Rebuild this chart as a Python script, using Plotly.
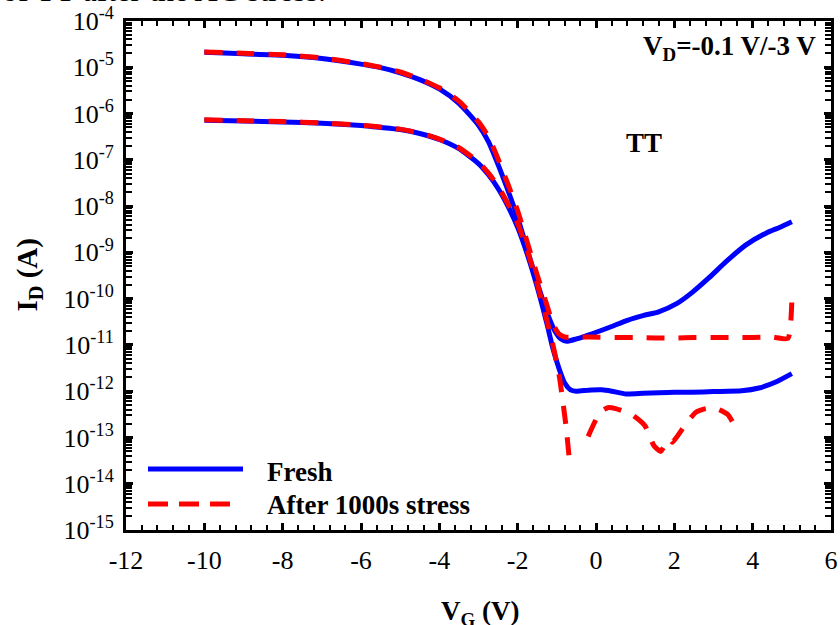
import numpy as np
import plotly.graph_objects as go

# ---- data (gate voltage in V, drain current in A) ----
vg_fresh_hi = [-10, -9, -8, -7, -6, -5.5, -5, -4.5, -4, -3.5, -3.0, -2.75, -2.5, -2.25, -2.0,
               -1.75, -1.5, -1.25, -1.05, -0.9, -0.75, -0.5, -0.1, 0.4, 0.8, 1.2, 1.6, 2.07,
               2.45, 2.88, 3.32, 3.83, 4.34, 4.7, 5.0]
id_fresh_hi = [2.1e-5, 1.95e-5, 1.82e-5, 1.55e-5, 1.17e-5, 9.8e-6, 7.6e-6, 5.4e-6, 3.4e-6,
               1.66e-6, 5.6e-7, 2.5e-7, 7.9e-8, 2.2e-8, 5.6e-9, 1.12e-9, 2.2e-10, 5.0e-11,
               2.0e-11, 1.35e-11, 1.2e-11, 1.35e-11, 1.74e-11, 2.5e-11, 3.4e-11, 4.3e-11,
               5.2e-11, 7.9e-11, 1.35e-10, 2.8e-10, 6.3e-10, 1.45e-9, 2.6e-9, 3.5e-9, 4.6e-9]

vg_fresh_lo = [-10, -9, -8, -7, -6, -5.5, -5, -4.5, -4, -3.5, -3.0, -2.75, -2.5, -2.25, -2.0,
               -1.75, -1.5, -1.25, -1.1, -0.95, -0.8, -0.65, -0.5, -0.2, 0.15, 0.4, 0.77, 1.2,
               1.61, 2.0, 2.45, 3.0, 3.72, 4.16, 4.59, 5.0]
id_fresh_lo = [7.2e-7, 6.9e-7, 6.6e-7, 6.2e-7, 5.5e-7, 5.0e-7, 4.5e-7, 3.7e-7, 2.75e-7, 1.74e-7,
               8.3e-8, 4.8e-8, 2.4e-8, 1.0e-8, 3.5e-9, 8.9e-10, 1.78e-10, 2.8e-11, 8.3e-12,
               3.2e-12, 1.5e-12, 1.07e-12, 1.0e-12, 1.05e-12, 1.07e-12, 1.0e-12, 8.7e-13,
               9.0e-13, 9.3e-13, 9.5e-13, 9.5e-13, 9.8e-13, 1.02e-12, 1.17e-12, 1.58e-12, 2.4e-12]

vg_stress_hi = [-10, -9, -8, -7, -6, -5.5, -5, -4.5, -4, -3.5, -3.0, -2.75, -2.5, -2.25, -2.0,
                -1.75, -1.5, -1.25, -1.1, -0.95, -0.8, -0.6, -0.2, 0.5, 1.0, 1.5, 2.0, 2.5,
                3.0, 3.5, 4.0, 4.5, 4.9, 5.0]
id_stress_hi = [2.15e-5, 2.0e-5, 1.86e-5, 1.6e-5, 1.2e-5, 1.0e-5, 7.9e-6, 5.6e-6, 3.6e-6,
                1.86e-6, 6.6e-7, 3.2e-7, 1.05e-7, 3.0e-8, 7.9e-9, 1.6e-9, 3.2e-10, 7.1e-11,
                2.8e-11, 1.74e-11, 1.48e-11, 1.48e-11, 1.48e-11, 1.45e-11, 1.45e-11, 1.41e-11,
                1.41e-11, 1.45e-11, 1.45e-11, 1.45e-11, 1.45e-11, 1.48e-11, 1.38e-11, 8.9e-11]

vg_stress_lo = [-10, -9, -8, -7, -6, -5.5, -5, -4.5, -4, -3.5, -3.0, -2.75, -2.5, -2.25, -2.0,
                -1.75, -1.5, -1.25, -1.1, -0.95, -0.85, -0.76, -0.66, -0.4,
                -0.2, -0.15, 0.1, 0.3, 0.5, 0.92, 1.25, 1.48, 1.65, 1.86, 1.95, 2.3, 2.55, 2.8,
                3.05, 3.37, 3.62]
id_stress_lo = [7.3e-7, 7.0e-7, 6.7e-7, 6.3e-7, 5.6e-7, 5.1e-7, 4.6e-7, 3.8e-7, 2.8e-7, 1.82e-7,
                8.9e-8, 5.2e-8, 2.7e-8, 1.12e-8, 4.2e-9, 1.07e-9, 2.1e-10, 3.3e-11, 1.0e-11,
                2.5e-12, 6.3e-13, 1.6e-13, 2.2e-14, None,
                1.05e-13, 1.32e-13, 3.5e-13, 4.4e-13, 4.2e-13, 3.1e-13, 1.8e-13, 6.6e-14, 5.0e-14,
                9.3e-14, 7.9e-14, 2.0e-13, 3.5e-13, 4.2e-13, 4.3e-13, 3.1e-13, 1.3e-13]

x_ticks = [-12, -10, -8, -6, -4, -2, 0, 2, 4, 6]
y_exponents = list(range(-15, -3))

FONT = "Liberation Serif"
BLUE = "#0000FF"
RED = "#FF0000"
DASH = "18px,14px"

fig = go.Figure()
for vg, idv in [(vg_fresh_hi, id_fresh_hi), (vg_fresh_lo, id_fresh_lo)]:
    fig.add_trace(go.Scatter(x=vg, y=idv, mode="lines",
                             line=dict(color=BLUE, width=5, shape="spline", smoothing=0.6),
                             showlegend=False))
for vg, idv in [(vg_stress_hi, id_stress_hi), (vg_stress_lo, id_stress_lo)]:
    fig.add_trace(go.Scatter(x=vg, y=idv, mode="lines",
                             line=dict(color=RED, width=5, dash=DASH, shape="spline",
                                       smoothing=0.5),
                             connectgaps=False, showlegend=False))

minor_y = [k * 10.0 ** e for e in range(-15, -4) for k in range(2, 10)]

fig.update_layout(
    width=840, height=625,
    margin=dict(l=126, r=9, t=21, b=95, autoexpand=False),
    paper_bgcolor="white", plot_bgcolor="white",
    font=dict(family=FONT, size=26, color="black"),
    showlegend=False,
    xaxis=dict(range=[-12, 6], tickvals=x_ticks, ticktext=[str(v) for v in x_ticks],
               ticks="inside", ticklen=7, tickwidth=3, tickcolor="black",
               showline=True, linewidth=3, linecolor="black", mirror="ticks",
               showgrid=False, zeroline=False, ticklabelstandoff=5, automargin=False,
               minor=dict(dtick=0.4, tick0=-12, ticks="inside", ticklen=5, tickwidth=1.5,
                          tickcolor="black", showgrid=False),
               tickfont=dict(size=26)),
    yaxis=dict(type="log", range=[-15, -4],
               tickvals=[10.0 ** e for e in y_exponents],
               ticktext=["10<sup>%d</sup>" % e for e in y_exponents],
               ticks="inside", ticklen=7, tickwidth=3, tickcolor="black",
               showline=True, linewidth=3, linecolor="black", mirror="ticks",
               showgrid=False, zeroline=False, ticklabelstandoff=4, automargin=False,
               minor=dict(tickmode="array", tickvals=minor_y, ticks="inside", ticklen=6,
                          tickwidth=1.5, tickcolor="black", showgrid=False),
               tickfont=dict(size=26)),
)

W, H, L, T = 705.0, 509.0, 126.0, 21.0
def px(x):
    return (x - L) / W
def py(y):
    return 1 - (y - T) / H

ann = []
ann.append(dict(text="<b>V<sub>G</sub> (V)</b>", x=px(480), y=py(594), xref="paper", yref="paper",
                xanchor="center", yanchor="top", showarrow=False, font=dict(size=27)))
ann.append(dict(text="<b>I<sub>D</sub> (A)</b>", x=px(28), y=0.5, xref="paper", yref="paper",
                xanchor="center", yanchor="middle", textangle=-90, showarrow=False,
                font=dict(size=29)))
ann.append(dict(text="<b>V<sub>D</sub>=-0.1 V/-3 V</b>", x=px(818), y=py(48), xref="paper",
                yref="paper", xanchor="right", yanchor="middle", showarrow=False,
                font=dict(size=27)))
ann.append(dict(text="<b>TT</b>", x=px(643.5), y=py(143), xref="paper", yref="paper",
                xanchor="center", yanchor="middle", showarrow=False, font=dict(size=27)))
ann.append(dict(text="<b>Fresh</b>", x=px(265), y=py(472), xref="paper", yref="paper",
                xanchor="left", yanchor="middle", showarrow=False, font=dict(size=27)))
ann.append(dict(text="<b>After 1000s stress</b>", x=px(265), y=py(505), xref="paper",
                yref="paper", xanchor="left", yanchor="middle", showarrow=False,
                font=dict(size=27)))
ann.append(dict(text="of TT after the AC stress.", x=px(0), y=py(10), xref="paper",
                yref="paper", xanchor="left", yanchor="bottom", showarrow=False,
                font=dict(size=32)))
fig.update_layout(annotations=ann)

fig.add_shape(type="line", xref="paper", yref="paper", x0=px(148), x1=px(243),
              y0=py(469), y1=py(469), line=dict(color=BLUE, width=5))
fig.add_shape(type="line", xref="paper", yref="paper", x0=px(148), x1=px(233),
              y0=py(504), y1=py(504), line=dict(color=RED, width=5, dash="20px,11px"))

fig.write_html("out.html")
